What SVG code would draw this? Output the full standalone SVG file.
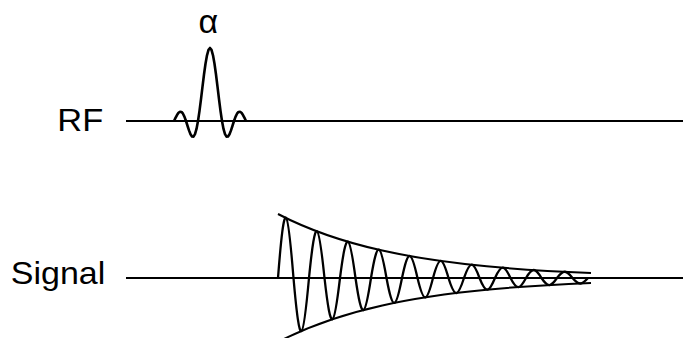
<svg xmlns="http://www.w3.org/2000/svg" width="683" height="338" viewBox="0 0 683 338">
  <style>
    .lbl { font-family: "Liberation Sans", Arial, sans-serif; font-size: 32px; fill: #000; }
    .ln { fill: none; stroke: #000; stroke-width: 2; stroke-linejoin: round; stroke-linecap: butt; }
    .wave { stroke-width: 2.6; }
    .fid { stroke-width: 2.3; }
  </style>
  <rect width="683" height="338" fill="#fff"/>
  <g id="rf-row">
    <text class="lbl" x="57.3" y="131" textLength="45.9" lengthAdjust="spacingAndGlyphs">RF</text>
    <line class="ln" x1="126" y1="121" x2="683" y2="121"/>
  </g>
  <g id="rf-pulse">
    <text class="lbl" x="208.3" y="33" text-anchor="middle" style="font-size:34px">α</text>
    <polyline class="ln wave" points="174,121 175.5,117.91 177,115.03 178.5,112.82 180,111.71 181.5,111.96 183,113.7 184.5,116.82 186,121 187.5,125.74 189,130.39 190.5,134.21 192,136.49 193.5,136.61 195,134.15 196.5,128.9 198,121 199.5,110.84 201,99.09 202.5,86.65 204,74.53 205.5,63.75 207,55.28 208.5,49.86 210,48 211.5,49.86 213,55.28 214.5,63.75 216,74.53 217.5,86.65 219,99.09 220.5,110.84 222,121 223.5,128.9 225,134.15 226.5,136.61 228,136.49 229.5,134.21 231,130.39 232.5,125.74 234,121 235.5,116.82 237,113.7 238.5,111.96 240,111.71 241.5,112.82 243,115.03 244.5,117.91 246,121"/>
  </g>
  <g id="signal-row">
    <text class="lbl" x="10.8" y="284" textLength="94.5" lengthAdjust="spacingAndGlyphs">Signal</text>
    <line class="ln" x1="126" y1="278" x2="683" y2="278"/>
  </g>
  <g id="fid">
    <path class="ln fid" d="M278,278 C284.58,192.66 287.42,202.78 293.5,278 C300.08,353.24 302.92,344.31 309,278 C315.58,211.67 318.42,219.54 324.5,278 C331.08,336.47 333.92,329.54 340,278 C346.58,226.45 349.42,232.56 355.5,278 C362.08,323.45 364.92,318.06 371,278 C377.58,237.93 380.42,242.68 386.5,278 C393.08,313.32 395.92,309.13 402,278 C408.58,246.86 411.42,250.55 417.5,278 C424.08,305.45 426.92,302.2 433,278 C439.58,253.8 442.42,256.67 448.5,278 C455.08,299.34 457.92,296.81 464,278 C470.58,259.19 473.42,261.42 479.5,278 C486.08,294.58 488.92,292.62 495,278 C501.58,263.38 504.42,265.11 510.5,278 C517.08,290.89 519.92,289.36 526,278 C532.58,266.64 535.42,267.98 541.5,278 C548.08,288.02 550.92,286.83 557,278 C563.58,269.17 566.42,270.22 572.5,278 C579.08,285.79 581.92,284.86 588,278"/>
  </g>
  <g id="envelope">
    <path class="ln" d="M278,214 C312.78,232.1 347.56,242.84 382.33,250.59 C417.11,258.34 451.89,262.95 486.67,266.27 C521.45,269.59 556.22,271.56 591,272.98"/>
    <path class="ln" d="M278,342 C312.78,323.9 347.56,313.16 382.33,305.41 C417.11,297.66 451.89,293.05 486.67,289.73 C521.45,286.41 556.22,284.44 591,283.02"/>
  </g>
</svg>
